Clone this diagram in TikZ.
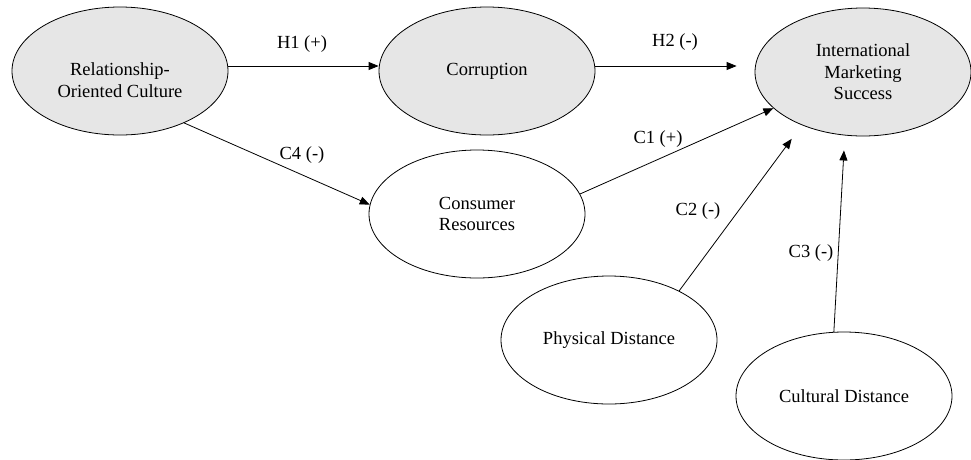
\documentclass[tikz,border=0pt]{standalone}
\usepackage{fontspec}
\setmainfont{Liberation Serif}
\usetikzlibrary{shapes.geometric,arrows.meta}
\definecolor{lgrey}{HTML}{E6E6E6}
\begin{document}
\begin{tikzpicture}[x=1pt,y=-1pt,
  txt/.style={font=\fontsize{18.5}{21.5}\selectfont},
  latent/.style={ellipse,draw=black,line width=0.8pt,minimum width=216pt,minimum height=128pt,inner sep=0pt,align=center,txt},
  greyl/.style={latent,fill=lgrey},
  arr/.style={-{Triangle[length=10pt,width=8pt]},line width=0.8pt},
  lab/.style={txt,inner sep=1pt}]
\useasboundingbox (0,0) rectangle (971,459);
\node[greyl,label={[txt,align=center,yshift=-9pt]center:Relationship-\\Oriented Culture}] (rel) at (120,71) {};
\node[greyl] (cor) at (487,71) {Corruption};
\node[greyl] (ims) at (863,72) {International\\Marketing\\Success};
\node[latent] (con) at (477,214) {Consumer\\Resources};
\node[latent] (phy) at (609,340) {Physical Distance};
\node[latent] (cul) at (844,396) {Cultural Distance};
\draw[arr] ([yshift=5pt]rel.east) -- ([yshift=5pt]cor.west);
\draw[arr,shorten >=18pt] ([yshift=5pt]cor.east) -- ([yshift=5pt]cor.east -| ims.west);
\draw[arr] (rel.-39) -- (con.175);
\draw[arr] (con.11) -- (ims.-158);
\draw[arr,shorten >=17pt] (phy.35) -- (ims.221);
\draw[arr,shorten >=15pt] (cul.99) -- (ims.254);
\node[lab] (h1) at (302,44) {H1 (+)};
\node[lab] (h2) at (675,42) {H2 (-)};
\node[lab] (c4) at (302,155) {C4 (-)};
\node[lab] (c1) at (658,139) {C1 (+)};
\node[lab] (c2) at (698,211) {C2 (-)};
\node[lab] (c3) at (811,253) {C3 (-)};
\end{tikzpicture}
\end{document}
